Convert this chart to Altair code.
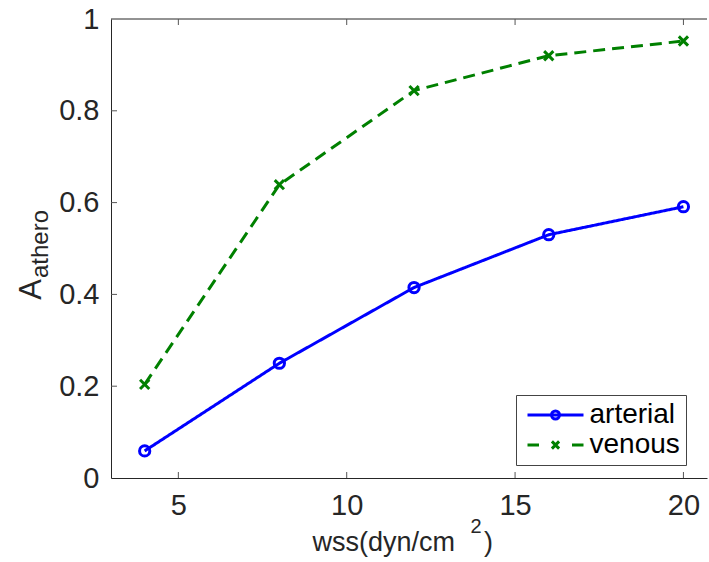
import altair as alt
import pandas as pd

# Shear stress levels and fitted athero-prone area fractions
wss = [4, 8, 12, 16, 20]
arterial = [0.059, 0.250, 0.415, 0.530, 0.591]
venous = [0.204, 0.639, 0.844, 0.920, 0.952]
series_names = ["arterial", "venous"]
colors = ["#0000ff", "#008000"]

x_ticks = [5, 10, 15, 20]
y_ticks = [0, 0.2, 0.4, 0.6, 0.8, 1]

W, H = 596, 459
FONT = "Liberation Sans"
AXIS_COLOR = "#262626"
TICK_FONT_SIZE = 29

df = pd.DataFrame({
    "wss": wss * 2,
    "value": arterial + venous,
    "series": ["arterial"] * len(wss) + ["venous"] * len(wss),
})

x_scale = alt.Scale(domain=[3, 20.7], nice=False, zero=False)
y_scale = alt.Scale(domain=[0, 1], nice=False)

x_axis = alt.Axis(
    values=x_ticks, title=None, grid=False, ticks=False, tickSize=0,
    domainColor=AXIS_COLOR, domainWidth=1, labelFont=FONT, labelFontSize=TICK_FONT_SIZE,
    labelColor=AXIS_COLOR, labelPadding=13,
)
y_axis = alt.Axis(
    values=y_ticks, format="~g", title=None, grid=False, ticks=False, tickSize=0,
    domainColor=AXIS_COLOR, domainWidth=1, labelFont=FONT, labelFontSize=TICK_FONT_SIZE,
    labelColor=AXIS_COLOR, labelPadding=12,
)

base = alt.Chart(df)

lines = base.mark_line(strokeWidth=3).encode(
    x=alt.X("wss:Q", scale=x_scale, axis=x_axis),
    y=alt.Y("value:Q", scale=y_scale, axis=y_axis),
    color=alt.Color("series:N", scale=alt.Scale(domain=series_names, range=colors), legend=None),
    strokeDash=alt.StrokeDash(
        "series:N",
        scale=alt.Scale(domain=series_names, range=[[1, 0], [12, 7]]),
        legend=None,
    ),
)

markers = base.mark_point(filled=False, strokeWidth=3, size=105, opacity=1).encode(
    x=alt.X("wss:Q", scale=x_scale),
    y=alt.Y("value:Q", scale=y_scale),
    color=alt.Color("series:N", scale=alt.Scale(domain=series_names, range=colors), legend=None),
    shape=alt.Shape(
        "series:N",
        scale=alt.Scale(domain=series_names, range=["circle", "M-0.9,-0.9L0.9,0.9M-0.9,0.9L0.9,-0.9"]),
        legend=None,
    ),
)

# Legend glyphs: line segment with the series marker in the middle
legend_paths = [
    "M-2.8,0H2.8M0.4,0A0.4,0.4,0,1,1,-0.4,0A0.4,0.4,0,1,1,0.4,0",
    "M-2.8,0H-1.65M1.65,0H2.8M-0.36,-0.36L0.36,0.36M-0.36,0.36L0.36,-0.36",
]
legend_props = dict(title=None, orient="none", legendX=405, legendY=376)
legend_layer = base.transform_filter("false").mark_point(
    filled=False, strokeWidth=3, size=400, opacity=1
).encode(
    x=alt.X("wss:Q", scale=x_scale),
    y=alt.Y("value:Q", scale=y_scale),
    color=alt.Color(
        "series:N", scale=alt.Scale(domain=series_names, range=colors),
        legend=alt.Legend(**legend_props),
    ),
    shape=alt.Shape(
        "series:N", scale=alt.Scale(domain=series_names, range=legend_paths),
        legend=alt.Legend(**legend_props),
    ),
)

# Box frame: top edge and inward tick marks
frame_top = alt.Chart(pd.DataFrame({"k": [0]})).mark_rule(
    color=AXIS_COLOR, strokeWidth=1
).encode(x=alt.value(0), x2=alt.value(W), y=alt.value(0))

xt_df = pd.DataFrame({"t": x_ticks})
yt_df = pd.DataFrame({"t": [v for v in y_ticks if 0 < v < 1]})

x_ticks_bottom = alt.Chart(xt_df).mark_rule(color="#555555", strokeWidth=1).encode(
    x=alt.X("t:Q", scale=x_scale), y=alt.value(H), y2=alt.value(H - 6)
)
x_ticks_top = alt.Chart(xt_df).mark_rule(color="#555555", strokeWidth=1).encode(
    x=alt.X("t:Q", scale=x_scale), y=alt.value(0), y2=alt.value(6)
)
y_ticks_left = alt.Chart(yt_df).mark_rule(color="#555555", strokeWidth=1).encode(
    y=alt.Y("t:Q", scale=y_scale), x=alt.value(0), x2=alt.value(6)
)

# Axis titles with sub/superscripts
def label(text, x, y, size, align, angle=0):
    return alt.Chart(pd.DataFrame({"s": [text]})).mark_text(
        font=FONT, fontSize=size, color=AXIS_COLOR, align=align,
        baseline="alphabetic", angle=angle,
    ).encode(text="s:N", x=alt.value(x), y=alt.value(y))

y_title = label("A", -70, 270.5, 31, "center", 270)
y_sub = label("athero", -63, 259, 24, "left", 270)
x_title = label("wss(dyn/cm", 344, 532, 27, "right")
x_sup = label("2", 365, 514, 20, "center")
x_paren = label(")", 373, 532, 27, "left")

chart = alt.layer(
    lines, markers, legend_layer, frame_top,
    x_ticks_bottom, x_ticks_top, y_ticks_left,
    y_title, y_sub, x_title, x_sup, x_paren,
).resolve_scale(
    color="independent", shape="independent"
).properties(
    width=W, height=H,
    background="white",
    autosize=alt.AutoSizeParams(type="none"),
    padding={"left": 111, "top": 19, "right": 2, "bottom": 84},
).configure_view(
    stroke=None
).configure_legend(
    padding=6, strokeColor="#444444", fillColor="white",
    labelFont=FONT, labelFontSize=28, labelColor="black",
    symbolSize=400, symbolStrokeWidth=3, symbolOffset=19.5, labelOffset=20,
    rowPadding=2, symbolFillColor="transparent", symbolOpacity=1,
)

chart.save("out.html", embed_options={"renderer": "svg", "actions": False})
